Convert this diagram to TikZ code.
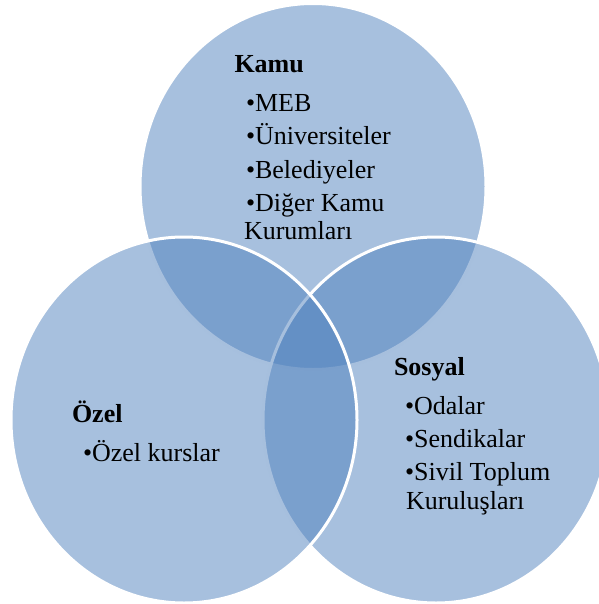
\documentclass[tikz,border=0pt]{standalone}
\usepackage{fontspec}
\setmainfont{Liberation Serif}
\newfontfamily\diagserif{Liberation Serif}
\definecolor{accentblue}{HTML}{4F81BD}
\begin{document}
\begin{tikzpicture}[x=1pt,y=-1pt,
  setbox/.style={fill=accentblue,fill opacity=0.5,draw=white,draw opacity=1,line width=3pt},
  txt/.style={anchor=base west,inner sep=0pt,outer sep=0pt,font=\diagserif\fontsize{26}{30}\selectfont,text=black},
  ttl/.style={txt,font=\diagserif\fontsize{26}{30}\selectfont\bfseries}]
\useasboundingbox (0,0) rectangle (598,604);
% sets: top, right, left (drawing order as in reference)
\path[setbox] (313,186.5) ellipse [x radius=173pt, y radius=183pt];
\path[setbox] (436,420) ellipse [x radius=173pt, y radius=183pt];
\path[setbox] (184,420) ellipse [x radius=173pt, y radius=183pt];
% Kamu
\node[ttl] (kamu) at (234.5,73) {Kamu};
\node[txt] (meb) at (246,112) {•MEB};
\node[txt] (uni) at (246,145) {•Üniversiteler};
\node[txt] (bel) at (246,178) {•Belediyeler};
\node[txt] (dig) at (246,211) {•Diğer Kamu};
\node[txt] (kur) at (244,239) {Kurumları};
% Özel
\node[ttl] (ozel) at (72,422) {Özel};
\node[txt] (ozk) at (83,461) {•Özel kurslar};
% Sosyal
\node[ttl] (sos) at (394,375) {Sosyal};
\node[txt] (oda) at (405,414) {•Odalar};
\node[txt] (sen) at (405,447) {•Sendikalar};
\node[txt] (siv) at (405,480) {•Sivil Toplum};
\node[txt] (kul) at (406,509) {Kuruluşları};
\end{tikzpicture}
\end{document}
